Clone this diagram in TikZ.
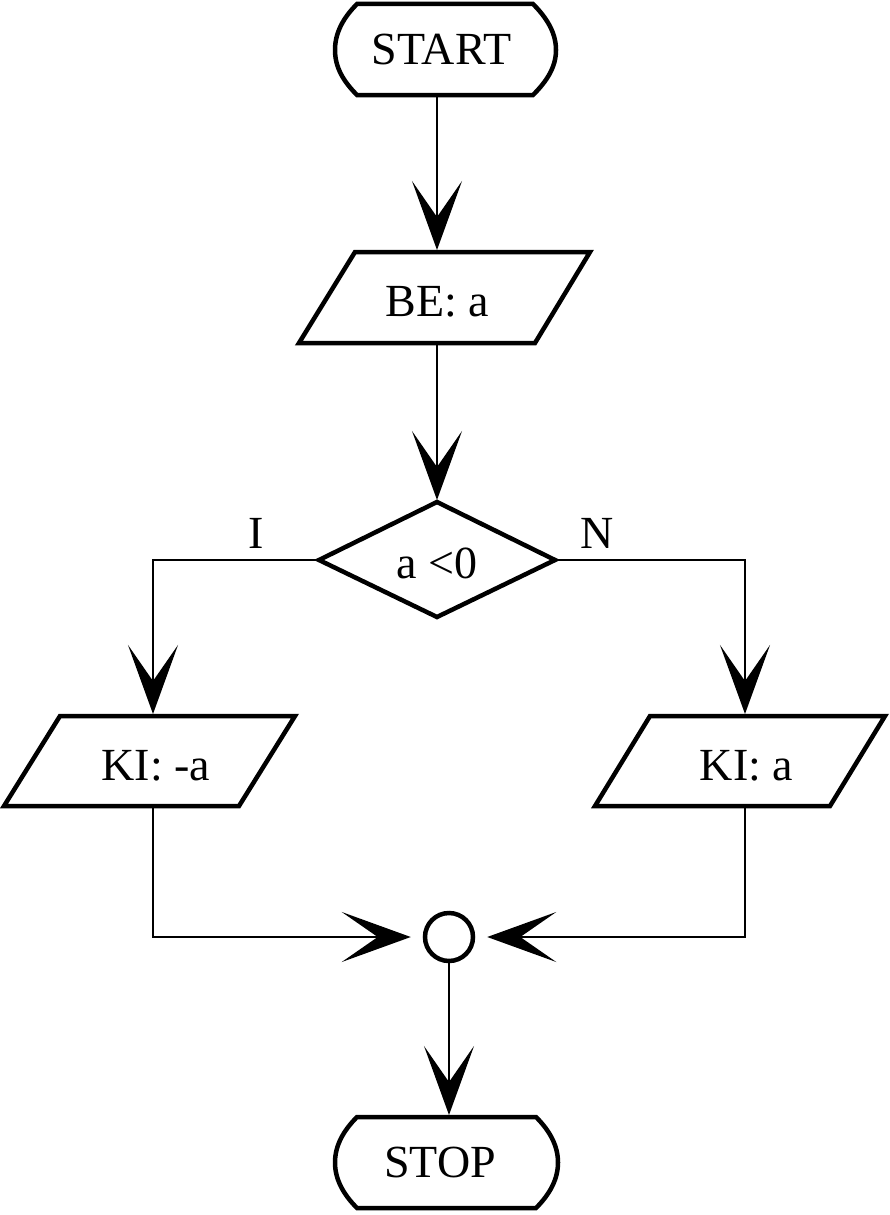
\documentclass[tikz,border=0pt]{standalone}
\usepackage{fontspec}
\setmainfont{Liberation Serif}
\usetikzlibrary{arrows.meta}
\begin{document}
\begin{tikzpicture}[x=1pt,y=-1pt,
  conn/.style={line width=2pt,-{Stealth[length=69pt,width=50pt,inset=36pt]}},
  shp/.style={line width=4.5pt,line join=miter},
  lbl/.style={font=\fontsize{46}{46}\selectfont,inner sep=0pt,anchor=base}]
\useasboundingbox (0,0) rectangle (890,1215);
% START terminal
\draw[shp] (357,4) -- (533,4) .. controls (547,18) and (556,33) .. (556,50)
  .. controls (556,67) and (547,81) .. (533,95) -- (357,95)
  .. controls (343,81) and (335,67) .. (335,50)
  .. controls (335,33) and (343,18) .. cycle;
\node[lbl] (tStart) at (441.5,65) {START};
\coordinate (sB) at (437,95);
% BE: a
\draw[shp] (355,252) -- (590,252) -- (535,343) -- (299,343) -- cycle;
\node[lbl] (tBE) at (437.5,316) {BE: a};
\coordinate (beT) at (437,250);
\coordinate (beB) at (437,343);
% decision
\draw[shp] (437,502) -- (555,560) -- (437,617) -- (319,560) -- cycle;
\node[lbl] (tCond) at (437,578) {a <0};
\coordinate (dT) at (437,500);
\coordinate (dL) at (319,560);
\coordinate (dR) at (555,560);
\node[lbl] (lI) at (256,548) {I};
\node[lbl] (lN) at (597,548) {N};
% KI: -a
\draw[shp] (60,716) -- (295,716) -- (239,806) -- (4,806) -- cycle;
\node[lbl] (tKIneg) at (156,780) {KI: -a};
\coordinate (kLT) at (153,714);
\coordinate (kLB) at (153,806);
% KI: a
\draw[shp] (650,716) -- (885,716) -- (830,806) -- (595,806) -- cycle;
\node[lbl] (tKIpos) at (746.5,780) {KI: a};
\coordinate (kRT) at (745,714);
\coordinate (kRB) at (745,806);
% junction
\node[circle,draw,line width=4.5pt,minimum size=48pt,inner sep=0pt] (junction) at (449,937) {};
% STOP terminal
\draw[shp] (357,1117) -- (536,1117) .. controls (550,1131) and (558,1146) .. (558,1162.5)
  .. controls (558,1179) and (550,1194) .. (536,1208) -- (357,1208)
  .. controls (343,1194) and (335,1179) .. (335,1162.5)
  .. controls (335,1146) and (343,1131) .. cycle;
\node[lbl] (tStop) at (440,1177) {STOP};
\coordinate (stT) at (449,1115);
% connectors
\draw[conn] (sB) -- (beT);
\draw[conn] (beB) -- (dT);
\draw[conn] (dL) -| (kLT);
\draw[conn] (dR) -| (kRT);
\draw[conn,shorten >=12pt] (kLB) |- (junction.west);
\draw[conn,shorten >=12pt] (kRB) |- (junction.east);
\draw[conn] (junction.south) -- (stT);
\end{tikzpicture}
\end{document}
